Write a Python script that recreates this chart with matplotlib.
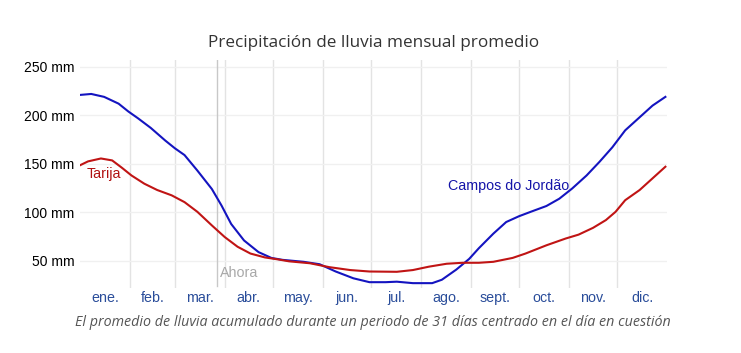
import matplotlib
matplotlib.use("Agg")
import matplotlib.pyplot as plt

# day of year -> mm
campos_days = [0, 7, 15, 24, 30, 36, 44, 53, 59, 65, 73, 82, 88, 94, 102, 111, 119, 126,
               139, 149, 159, 170, 180, 190, 197, 207, 219, 225, 234, 242, 248, 257, 265,
               273, 281, 290, 298, 306, 315, 323, 331, 339, 348, 356, 364]
campos_mm = [221, 222, 219, 212, 204, 197, 187, 174, 166, 159, 143, 124, 107, 88, 71, 59,
             53, 51, 49, 46.5, 39, 32, 28, 28, 28.5, 27, 27, 30.5, 41, 52, 63, 78, 90,
             96, 101, 106.5, 114, 124.5, 138, 152, 167, 184.5, 198, 210, 219]

tarija_days = [0, 5, 13, 20, 26, 32, 40, 48, 57, 65, 73, 82, 90, 98, 106, 115, 123, 130,
               143, 155, 168, 180, 197, 207, 217, 228, 238, 248, 257, 269, 277, 290, 302,
               310, 319, 327, 333, 339, 348, 356, 364]
tarija_mm = [148.5, 152.5, 155.5, 153.5, 146, 138, 129.5, 123, 117.5, 110.5, 100.5, 86.5,
             74.5, 64.5, 57.5, 53.5, 51.5, 49.5, 47.5, 43.5, 40.5, 39, 38.7, 40.5, 44, 47,
             48, 48, 49, 53, 57.5, 66, 73, 77, 84, 92, 100.5, 112.5, 123, 135, 147]

month_starts = [0, 31, 59, 90, 120, 151, 181, 212, 243, 273, 304, 334, 365]
month_labels = ["ene.", "feb.", "mar.", "abr.", "may.", "jun.",
                "jul.", "ago.", "sept.", "oct.", "nov.", "dic."]
y_ticks = [50, 100, 150, 200, 250]
today = 85

fig = plt.figure(figsize=(7.41, 3.53), dpi=100)
ax = fig.add_axes([80 / 741, 65 / 353, 587 / 741, 228 / 353])

for d in month_starts[1:-1]:
    ax.axvline(d, color="#e3e3e3", lw=1, zorder=0)
for v in y_ticks:
    ax.axhline(v, color="#f0f0f0", lw=1, zorder=0)

ax.plot(campos_days, campos_mm, color="#1414c0", lw=1.5, solid_joinstyle="round")
ax.plot(tarija_days, tarija_mm, color="#c01414", lw=1.5, solid_joinstyle="round")

ax.axvline(today, ymin=0.01, color="#c8c8c8", lw=1, zorder=1)
ax.text(today + 2, 37, "Ahora", color="#a8a8a8", fontsize=10.3, family="Liberation Sans",
        va="center")
ax.text(4, 139, "Tarija", color="#b01010", fontsize=10.3, family="Liberation Sans",
        va="center")
ax.text(304, 127, "Campos do Jordão", color="#1414a8", fontsize=10.3,
        family="Liberation Sans", va="center", ha="right")

ax.set_xlim(0, 365)
ax.set_ylim(22, 257)
ax.set_yticks(y_ticks)
ax.set_yticklabels([f"{v} mm" for v in y_ticks], fontsize=10, family="Liberation Sans")
mids = [(a + b) / 2 for a, b in zip(month_starts[:-1], month_starts[1:])]
ax.set_xticks(mids)
ax.set_xticklabels(month_labels, fontsize=10.3, family="Liberation Sans", color="#2a4d9a")
ax.tick_params(axis="x", length=0, pad=2)
ax.tick_params(axis="y", length=0, pad=4)
for s in ax.spines.values():
    s.set_visible(False)

fig.text(374 / 741, 1 - 43 / 353, "Precipitación de lluvia mensual promedio", ha="center",
         va="center", fontsize=12.3, color="#333333", family="Open Sans")
fig.text(373 / 741, 1 - 323 / 353,
         "El promedio de lluvia acumulado durante un periodo de 31 días centrado en el día en cuestión",
         ha="center", va="center", fontsize=10.3, color="#555555", style="italic",
         family="Open Sans")

fig.savefig("out.png", dpi=100)
